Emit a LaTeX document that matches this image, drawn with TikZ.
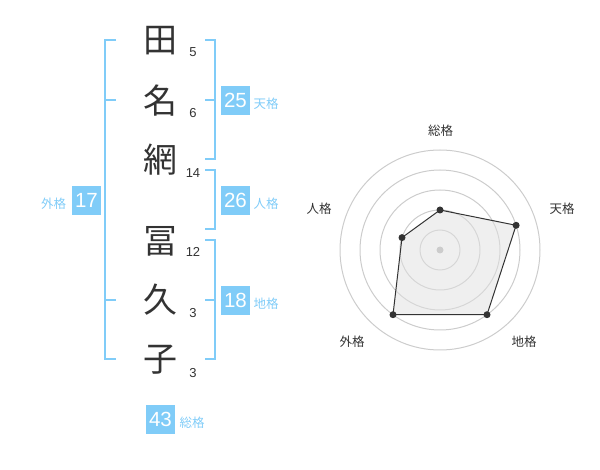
\documentclass[tikz,border=0pt]{standalone}
\usepackage{fontspec}
\newfontfamily\jpfont{Noto Sans CJK JP}
\newfontfamily\numfont{Liberation Sans}
\definecolor{lblue}{RGB}{128,204,248}
\definecolor{ink}{RGB}{51,51,51}
\definecolor{ring}{RGB}{204,204,204}
\definecolor{polyfill}{RGB}{224,224,224}
\begin{document}
\begin{tikzpicture}[x=1pt,y=-1pt,
  kanji/.style={inner sep=0pt,text=ink,font=\jpfont\fontsize{34}{34}\selectfont},
  stroke/.style={inner sep=0pt,text=ink,font=\numfont\fontsize{13}{13}\selectfont},
  numbox/.style={fill=lblue,text=white,minimum width=29pt,minimum height=29pt,inner sep=0pt,font=\numfont\fontsize{20.5}{20.5}\selectfont},
  kaku/.style={inner sep=0pt,text=lblue,font=\jpfont\fontsize{12.5}{12.5}\selectfont},
  bracket/.style={draw=lblue,line width=2pt},
  radlabel/.style={inner sep=0pt,text=ink,font=\jpfont\fontsize{12.5}{12.5}\selectfont},
  ringline/.style={draw=ring,line width=1pt},
  pt/.style={circle,fill=ink,inner sep=0pt,minimum size=7pt}]
\useasboundingbox (0,0) rectangle (600,470);
% name characters
\node[kanji] (k1) at (160,41) {田};
\node[kanji] (k2) at (160,101) {名};
\node[kanji] (k3) at (160,160) {網};
\node[kanji] (k4) at (160,241) {冨};
\node[kanji] (k5) at (160,300) {久};
\node[kanji] (k6) at (160,360) {子};
% stroke counts
\node[stroke] (s1) at (193,52) {5};
\node[stroke] (s2) at (193,113) {6};
\node[stroke] (s3) at (193,173) {14};
\node[stroke] (s4) at (193,252) {12};
\node[stroke] (s5) at (193,313) {3};
\node[stroke] (s6) at (193,373) {3};
% brackets
\draw[bracket] (116,40) -- (104.5,40) -- (104.5,359.5) -- (116,359.5);
\draw[bracket] (104.5,100) -- (116,100);
\draw[bracket] (104.5,300) -- (116,300);
\draw[bracket] (205,40) -- (214.5,40) -- (214.5,159.5) -- (205,159.5);
\draw[bracket] (205,100) -- (214.5,100);
\draw[bracket] (205,170) -- (214.5,170) -- (214.5,229.5) -- (205,229.5);
\draw[bracket] (205,240) -- (214.5,240) -- (214.5,359.5) -- (205,359.5);
\draw[bracket] (205,300) -- (214.5,300);
% boxes
\node[numbox] (ten) at (235.5,100.5) {25};
\node[kaku] at (266,103.5) {天格};
\node[numbox] (jin) at (235.5,200.5) {26};
\node[kaku] at (266,203.5) {人格};
\node[numbox] (chi) at (235.5,300.5) {18};
\node[kaku] at (266,303.5) {地格};
\node[numbox] (gai) at (86.5,200.5) {17};
\node[kaku] at (53.5,203.5) {外格};
\node[numbox] (sou) at (160.5,419) {43};
\node[kaku] at (192,422.5) {総格};
% radar
\coordinate (C) at (440,250);
\foreach \r in {20,40,60,80,100} \draw[ringline] (C) circle[radius=\r];
\coordinate (pS) at (440,210);
\coordinate (pT) at (516.1,225.3);
\coordinate (pC) at (487.0,314.7);
\coordinate (pG) at (393.0,314.7);
\coordinate (pJ) at (402.0,237.6);
\fill[polyfill,fill opacity=0.5] (pS) -- (pT) -- (pC) -- (pG) -- (pJ) -- cycle;
\fill[ring] (C) circle[radius=3.5];
\draw[draw=ink,line width=1pt] (pS) -- (pT) -- (pC) -- (pG) -- (pJ) -- cycle;
\foreach \p in {pS,pT,pC,pG,pJ} \node[pt] at (\p) {};
\node[radlabel] (lS) at (440.5,131) {総格};
\node[radlabel] (lT) at (562,209) {天格};
\node[radlabel] (lC) at (524,342) {地格};
\node[radlabel] (lG) at (352,342) {外格};
\node[radlabel] (lJ) at (319,209) {人格};
\end{tikzpicture}
\end{document}
